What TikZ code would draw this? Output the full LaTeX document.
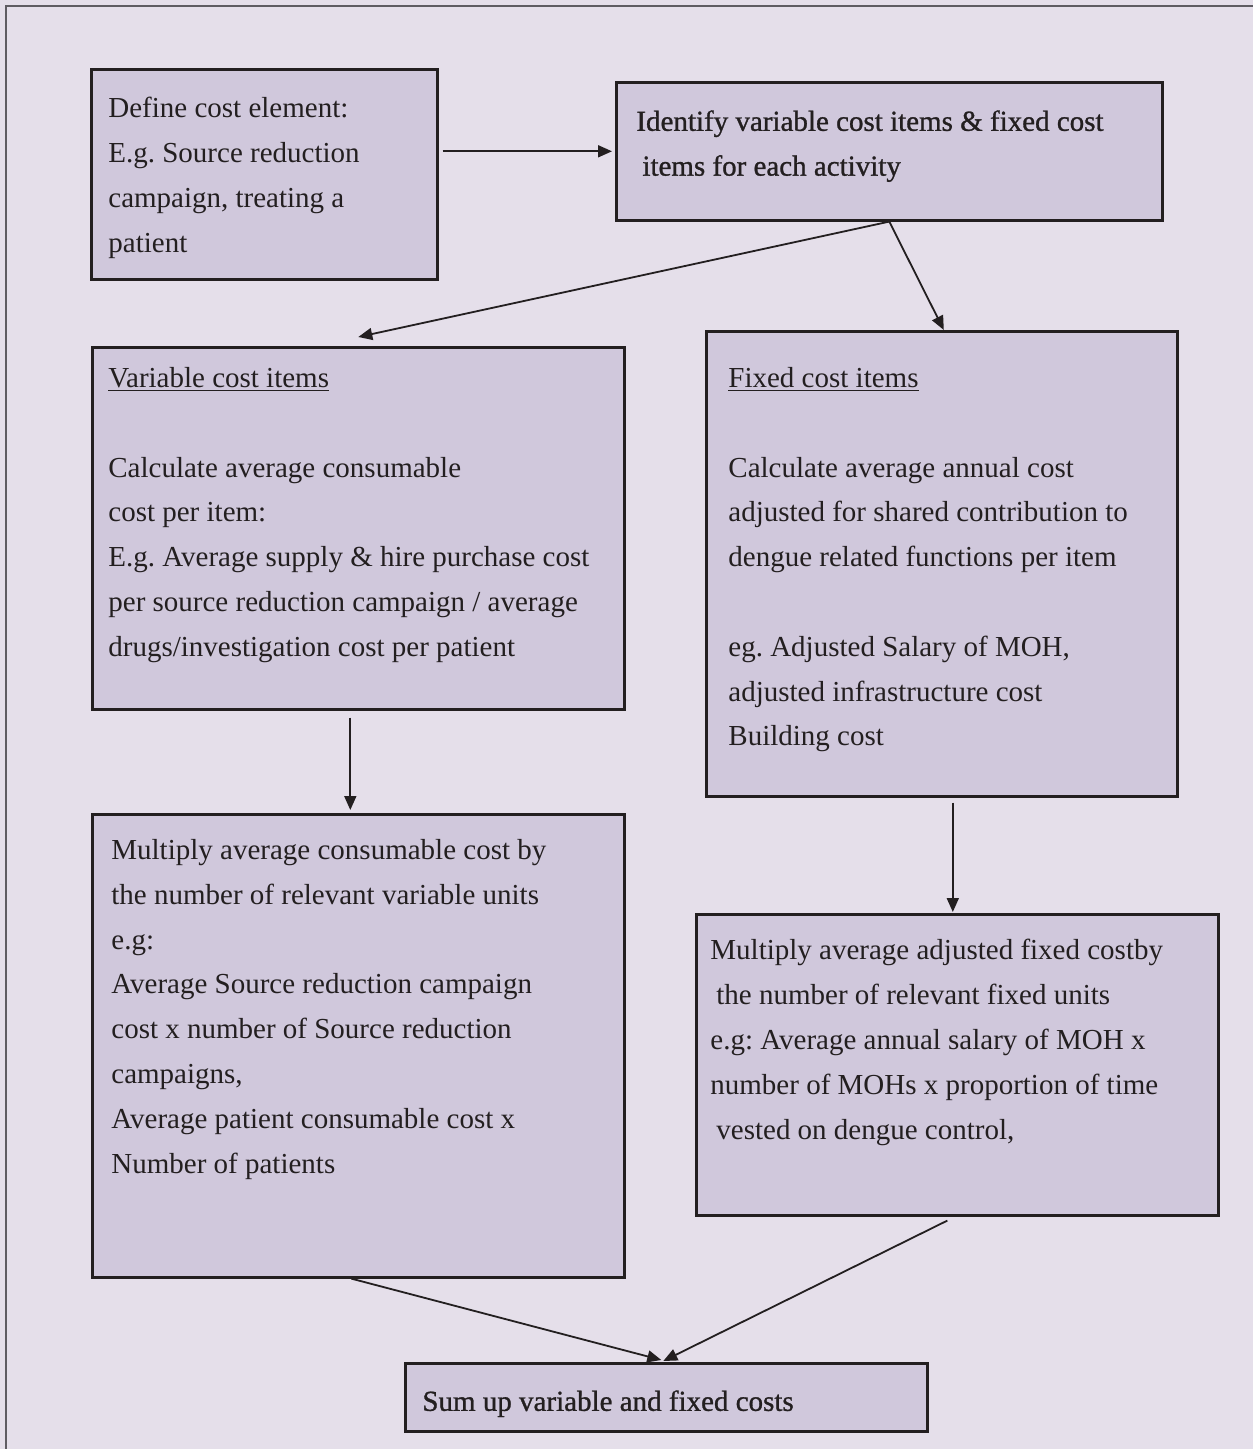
\documentclass[tikz,border=0pt]{standalone}
\usepackage{fontspec}
\setmainfont{Liberation Serif}
\newfontfamily\heavyfont[FakeBold=1]{Liberation Serif}
\usetikzlibrary{arrows.meta,calc}
\definecolor{bgcol}{RGB}{229,223,234}
\definecolor{boxcol}{RGB}{208,200,220}
\definecolor{framecol}{RGB}{95,92,98}
\definecolor{inkcol}{RGB}{35,31,32}
\begin{document}
\begin{tikzpicture}[x=0.5pt,y=-0.5pt,
  box/.style={draw=inkcol,fill=boxcol,line width=1.3pt,rectangle,inner sep=0pt,anchor=north west},
  txt/.style={anchor=north west,inner sep=0pt,align=left,text=inkcol,
    font=\fontsize{14.5}{22.4}\selectfont\frenchspacing},
  heavytxt/.style={txt,font=\heavyfont\fontsize{14.5}{22.4}\selectfont\frenchspacing},
  arr/.style={draw=inkcol,line width=0.9pt,-{Triangle[length=7pt,width=6pt]}}]
\useasboundingbox (0,0) rectangle (1253,1449);
\fill[bgcol] (0,0) rectangle (1253,1449);
\draw[framecol,line width=1pt] (6,1449) -- (6,6) -- (1253,6);
% boxes
\node[box,minimum width=173pt,minimum height=105pt] (def) at (90,68) {};
\node[box,minimum width=273pt,minimum height=69pt] (idf) at (615,81) {};
\node[box,minimum width=266pt,minimum height=181pt] (var) at (91,346) {};
\node[box,minimum width=235.5pt,minimum height=232.5pt] (fix) at (705,330) {};
\node[box,minimum width=266pt,minimum height=231.5pt] (mv) at (91,813) {};
\node[box,minimum width=261pt,minimum height=150.5pt] (mf) at (695,913) {};
\node[box,minimum width=261pt,minimum height=34pt] (sum) at (404,1362) {};
% texts (first baseline - 20)
\node[txt] (tdef) at (108,97) {\rule{0pt}{10pt}Define cost element:\\E.g. Source reduction\\campaign, treating a\\patient};
\node[heavytxt] (tidf) at (636,110) {\rule{0pt}{10pt}Identify variable cost items \& fixed cost\\\hspace{3pt}items for each activity};
\node[txt] (tvar) at (108,367) {\rule{0pt}{10pt}\underline{Variable cost items}\\[22.4pt]Calculate average consumable\\cost per item:\\E.g. Average supply \& hire purchase cost\\per source reduction campaign / average\\drugs/investigation cost per patient};
\node[txt] (tfix) at (728,367) {\rule{0pt}{10pt}\underline{Fixed cost items}\\[22.4pt]Calculate average annual cost\\adjusted for shared contribution to\\dengue related functions per item\\[22.4pt]eg. Adjusted Salary of MOH,\\adjusted infrastructure cost\\Building cost};
\node[txt] (tmv) at (111,839) {\rule{0pt}{10pt}Multiply average consumable cost by\\the number of relevant variable units\\e.g:\\Average Source reduction campaign\\cost x number of Source reduction\\campaigns,\\Average patient consumable cost x\\Number of patients};
\node[txt] (tmf) at (710,939) {\rule{0pt}{10pt}Multiply average adjusted fixed costby\\\hspace{3pt}the number of relevant fixed units\\e.g: Average annual salary of MOH x\\number of MOHs x proportion of time\\\hspace{3pt}vested on dengue control,};
\node[heavytxt] (tsum) at (422,1390) {\rule{0pt}{10pt}Sum up variable and fixed costs};
% connectors
\draw[arr] ($(def.east |- idf.west)+(4,0)$) -- ($(idf.west)+(-3,0)$);
\draw[arr] (idf.south) -- ($(var.north)+(0,-9)$);
\draw[arr] (idf.south) -- ($(fix.north)+(2,0)$);
\draw[arr] ($(var.south)+(-8,7)$) -- ($(mv.north)+(-8,-3)$);
\draw[arr] ($(fix.south)+(11,5)$) -- ($(fix.south |- mf.north)+(11,-1)$);
\draw[arr] ($(mv.south)+(-7,0)$) -- ($(sum.north)+(-5,-2)$);
\draw[arr] ($(mf.south)+(-10,4)$) -- ($(sum.north)+(-3,-1)$);
\end{tikzpicture}
\end{document}
